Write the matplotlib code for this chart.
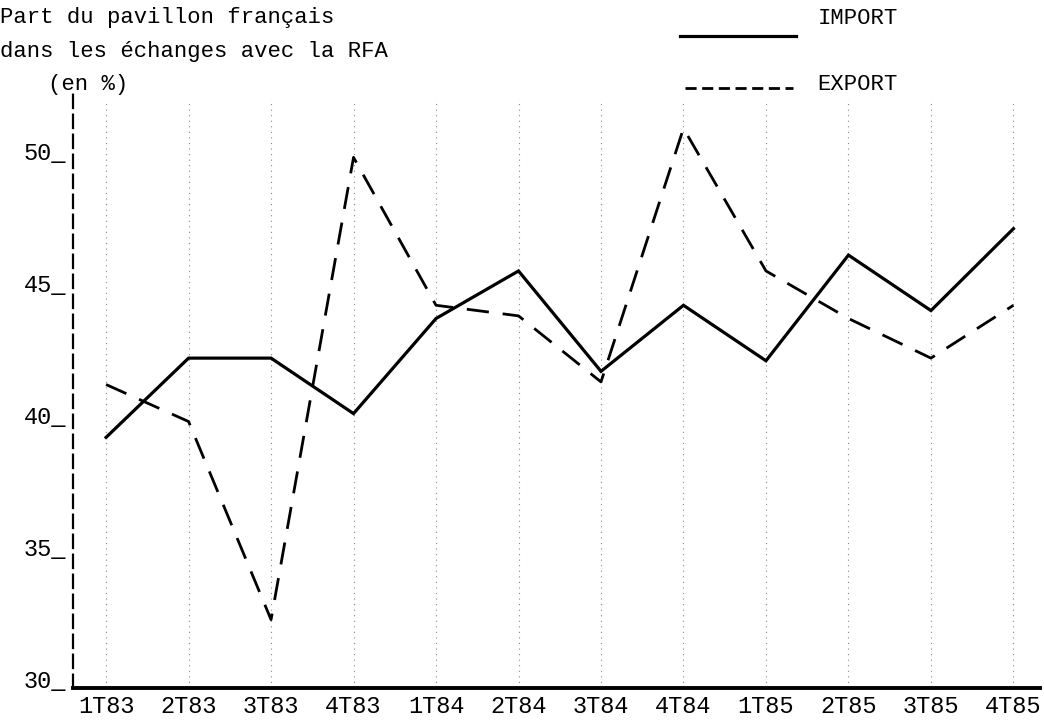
import matplotlib
matplotlib.use("Agg")
import matplotlib.pyplot as plt
from matplotlib.lines import Line2D

quarters = ["1T83", "2T83", "3T83", "4T83", "1T84", "2T84",
            "3T84", "4T84", "1T85", "2T85", "3T85", "4T85"]
import_share = [39.5, 42.5, 42.5, 40.4, 44.0, 45.8, 42.0, 44.5, 42.4, 46.4, 44.3, 47.4]
export_share = [41.5, 40.1, 32.6, 50.1, 44.5, 44.1, 41.6, 51.2, 45.8, 44.0, 42.5, 44.5]
y_ticks = [30, 35, 40, 45, 50]

plt.rcParams["font.family"] = ["Liberation Mono", "DejaVu Sans Mono"]

fig = plt.figure(figsize=(10.44, 7.2), dpi=100)
ax = fig.add_axes([0.07, 0.044, 0.926, 0.831])

x = list(range(len(quarters)))

# faint dotted guides at each quarter
ax.vlines(x, 30, 52.3, colors="#888888", linestyles=(0, (1, 4)), linewidth=0.8)

ax.plot(x, import_share, color="black", linewidth=2.3, solid_joinstyle="miter")
ax.plot(x, export_share, color="black", linewidth=2.0, dashes=(8, 5))

ax.set_xlim(-0.4, 11.32)
ax.set_ylim(30, 52.65)
ax.set_xticks(x)
ax.set_xticklabels(quarters, fontsize=17)
ax.set_yticks(y_ticks)
ax.set_yticklabels([f"{v}_" for v in y_ticks], fontsize=17)
for lbl in ax.get_yticklabels():
    lbl.set_verticalalignment("baseline")
ax.tick_params(length=0, pad=5)

for s in ("top", "right"):
    ax.spines[s].set_visible(False)
ax.spines["left"].set_linestyle((0, (6, 3)))
ax.spines["left"].set_linewidth(1.6)
ax.spines["bottom"].set_linewidth(2.8)

# title block
fig.text(0.0, 0.975, "Part du pavillon français", fontsize=16, va="center")
fig.text(0.0, 0.928, "dans les échanges avec la RFA", fontsize=16, va="center")
fig.text(0.046, 0.882, "(en %)", fontsize=16, va="center")

# hand-drawn legend
fig.add_artist(Line2D([0.651, 0.762], [0.950, 0.950], color="black", linewidth=2.3))
fig.text(0.783, 0.975, "IMPORT", fontsize=16, va="center")
fig.add_artist(Line2D([0.656, 0.760], [0.878, 0.878], color="black", linewidth=2.0,
                      dashes=(4, 2)))
fig.text(0.783, 0.882, "EXPORT", fontsize=16, va="center")

fig.savefig("out.png", dpi=100)
